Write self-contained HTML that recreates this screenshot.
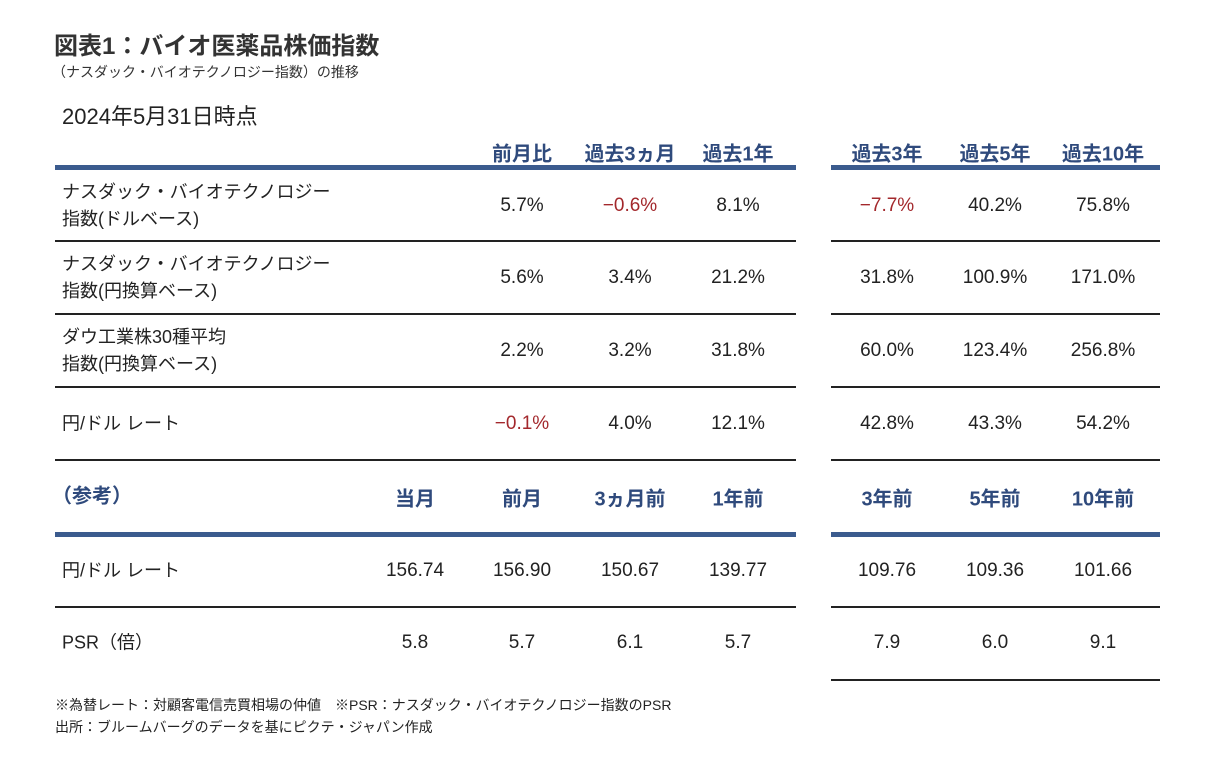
<!DOCTYPE html>
<html><head><meta charset="utf-8"><style>
body{margin:0;width:1223px;height:767px;background:#fff;position:relative;overflow:hidden;font-family:"Liberation Sans","Noto Sans CJK JP",sans-serif;color:#222}
.a{position:absolute;white-space:nowrap}
.c{position:absolute;transform:translate(-50%,-50%);white-space:nowrap;font-size:19px}
.l{position:absolute;transform:translateY(-50%);white-space:nowrap;font-size:18px;line-height:27px}
.h{color:#2f4a7c;font-weight:bold;font-size:20px}
.r{color:#a3282c}
.ln{position:absolute;height:2px;background:#222}
.tk{position:absolute;height:5px;background:#3b5b8e}
</style></head><body>
<div class="a" style="left:54px;top:26px;font-size:24px;font-weight:bold;color:#333">図表1：バイオ医薬品株価指数</div>
<div class="a" style="left:52px;top:62px;font-size:14px;color:#333">（ナスダック・バイオテクノロジー指数）の推移</div>
<div class="a" style="left:62px;top:99px;font-size:22px">2024年5月31日時点</div>
<div class="a" style="left:55px;top:695px;font-size:14px">※為替レート：対顧客電信売買相場の仲値　※PSR：ナスダック・バイオテクノロジー指数のPSR</div>
<div class="a" style="left:55px;top:717px;font-size:14px">出所：ブルームバーグのデータを基にピクテ・ジャパン作成</div>
<div id="t"></div>
<script>
const headers1=["前月比","過去3ヵ月","過去1年","過去3年","過去5年","過去10年"];
const rowLabels=[["ナスダック・バイオテクノロジー","指数(ドルベース)"],["ナスダック・バイオテクノロジー","指数(円換算ベース)"],["ダウ工業株30種平均","指数(円換算ベース)"],["円/ドル レート"]];
const rowValues=[
 [5.7,-0.6,8.1,-7.7,40.2,75.8],
 [5.6,3.4,21.2,31.8,100.9,171.0],
 [2.2,3.2,31.8,60.0,123.4,256.8],
 [-0.1,4.0,12.1,42.8,43.3,54.2]];
const headers2=["当月","前月","3ヵ月前","1年前","3年前","5年前","10年前"];
const refLabels=["円/ドル レート","PSR（倍）"];
const refRate=[156.74,156.90,150.67,139.77,109.76,109.36,101.66];
const refPsr=[5.8,5.7,6.1,5.7,7.9,6.0,9.1];

const t=document.getElementById('t');
const colX=[522,630,738,887,995,1103];
const colX2=[415].concat(colX);
function add(cls,txt,x,y,name){
 const d=document.createElement('div');d.className=cls;d.innerHTML=txt;
 d.style.left=x+'px';d.style.top=y+'px';
 
 
 t.appendChild(d);return d;}
function line(cls,x1,x2,y,name){
 const d=document.createElement('div');d.className=cls;
 d.style.left=x1+'px';d.style.width=(x2-x1)+'px';d.style.top=y+'px';
 
 
 t.appendChild(d);}
headers1.forEach((h,i)=>add('c h',h,colX[i],152,'header-'+i));
line('tk',55,796,165,'header-rule-left');line('tk',831,1160,165,'header-rule-right');
const rowY=[206,278,351,424];
rowValues.forEach((vals,r)=>{
 add('l',rowLabels[r].join('<br>'),62,rowY[r],'row-label-'+r);
 vals.forEach((v,i)=>{
  const s=(v<0?'−'+Math.abs(v).toFixed(1):v.toFixed(1))+'%';
  add('c'+(v<0?' r':''),s,colX[i],rowY[r],'cell-'+r+'-'+i);
 });
 const ly=[240,313,386,459][r];
 line('ln',55,796,ly,'row-rule-left-'+r);line('ln',831,1160,ly,'row-rule-right-'+r);
});
add('l h','（参考）',52,497,'reference-header');
headers2.forEach((h,i)=>add('c h',h,colX2[i],497,'ref-header-'+i));
line('tk',55,796,532,'ref-rule-left');line('tk',831,1160,532,'ref-rule-right');
add('l',refLabels[0],62,571,'ref-label-rate');
refRate.forEach((v,i)=>add('c',v.toFixed(2),colX2[i],571,'ref-rate-'+i));
line('ln',55,796,606,'ref-rate-rule-left');line('ln',831,1160,606,'ref-rate-rule-right');
add('l',refLabels[1],62,643,'ref-label-psr');
refPsr.forEach((v,i)=>add('c',v.toFixed(1),colX2[i],643,'ref-psr-'+i));
line('ln',831,1160,679,'ref-psr-rule-right');
</script>
</body></html>
